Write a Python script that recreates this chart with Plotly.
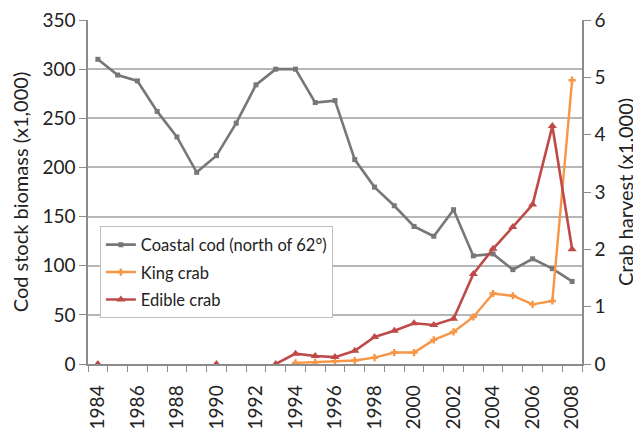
import plotly.graph_objects as go

years = list(range(1984, 2009))
cod = [310, 294, 288, 257, 231, 195, 212, 245, 284, 300, 300, 266, 268, 208, 180,
       161, 140, 130, 157, 110, 112, 96, 107, 97, 84]
king_crab = [None]*10 + [0.02, 0.03, 0.05, 0.06, 0.11, 0.2, 0.2, 0.42, 0.56, 0.82,
                         1.23, 1.19, 1.04, 1.1, 4.95]
edible_crab = [0, None, None, None, None, None, 0, None, None, 0, 0.18, 0.14, 0.12,
               0.23, 0.47, 0.58, 0.71, 0.68, 0.79, 1.57, 2.01, 2.39, 2.78, 4.15, 2.0]
even_years = [y for y in years if y % 2 == 0]
left_ticks = [0, 50, 100, 150, 200, 250, 300, 350]
right_ticks = [0, 1, 2, 3, 4, 5, 6]

FONT = "Lato, Open Sans, sans-serif"
grid = "#b7b7b7"
axis_col = "#8c8c8c"

fig = go.Figure()
fig.add_trace(go.Scatter(x=years, y=cod, name="Coastal cod (north of 62°)",
                         legendgroup="a",
                         mode="lines+markers", line=dict(color="#777777", width=2.6),
                         marker=dict(symbol="square", size=5, color="#777777")))
fig.add_trace(go.Scatter(x=years, y=king_crab, name="King crab", yaxis="y2",
                         legendgroup="b",
                         mode="lines+markers", line=dict(color="#f79646", width=2.4),
                         marker=dict(symbol="cross", size=6, color="#f79646")))
fig.add_trace(go.Scatter(x=years, y=edible_crab, name="Edible crab", yaxis="y2",
                         legendgroup="c",
                         mode="lines+markers", connectgaps=False,
                         line=dict(color="#be4b48", width=2.6),
                         marker=dict(symbol="triangle-up", size=8, color="#be4b48")))

fig.update_layout(
    width=633, height=421,
    margin=dict(l=80, r=59, t=12, b=65, autoexpand=False),
    paper_bgcolor="white", plot_bgcolor="white",
    font=dict(family=FONT, size=18, color="#222222"),
    showlegend=True,
    legend=dict(x=0.024, y=0.40, xanchor="left", yanchor="top",
                bordercolor="#bfbfbf", borderwidth=1, bgcolor="white",
                font=dict(size=16.5, family=FONT), tracegroupgap=3, itemwidth=30),
    xaxis=dict(range=[1983.5, 2008.5], tickvals=even_years,
               ticktext=[str(y) for y in even_years], tickangle=-90,
               ticks="outside", ticklen=12, tickcolor="rgba(0,0,0,0)",
               showgrid=False, showline=True, linecolor=axis_col,
               linewidth=1.5, zeroline=False, tickfont=dict(size=19),
               ticklabeloverflow="allow",
               minor=dict(tickvals=[y - 0.5 for y in years] + [2008.5],
                          ticks="outside", ticklen=6, tickcolor=axis_col,
                          showgrid=False)),
    yaxis=dict(range=[0, 350], tickvals=left_ticks, showgrid=True, gridcolor=grid,
               gridwidth=1.5, zeroline=False, showline=True, linecolor=axis_col,
               linewidth=1.5, ticks="outside", ticklen=7, tickcolor=axis_col,
               tickfont=dict(size=19), automargin=False, ticklabeloverflow="allow",
               title=dict(text="Cod stock biomass (x1,000)", font=dict(size=20),
                          standoff=8)),
    yaxis2=dict(range=[0, 6], tickvals=right_ticks, overlaying="y", side="right",
                showgrid=False, zeroline=False, showline=True, linecolor=axis_col,
                linewidth=1.5, ticks="outside", ticklen=7, tickcolor=axis_col,
                tickfont=dict(size=19), automargin=False, ticklabeloverflow="allow",
                title=dict(text="Crab harvest (x1,000)", font=dict(size=20),
                           standoff=14)),
)

fig.write_html("out.html")
